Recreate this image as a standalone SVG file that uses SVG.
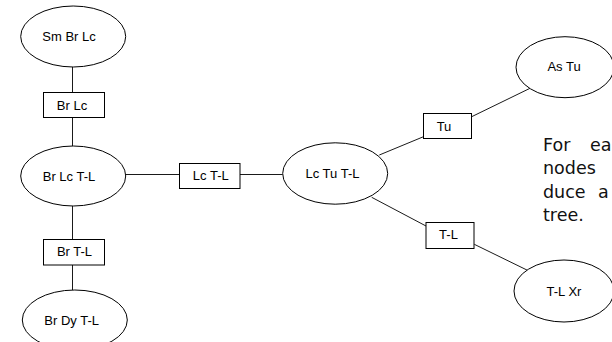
<svg xmlns="http://www.w3.org/2000/svg" width="612" height="342" viewBox="0 0 612 342">
  <style>
    .node ellipse, .node rect { fill: #ffffff; stroke: #000000; stroke-width: 1; }
    .node text { font-family: "Liberation Sans", Arial, sans-serif; font-size: 13px; fill: #000000; text-anchor: middle; }
    .edges line { stroke: #1a1a1a; stroke-width: 1; }
    .note { font-family: "DejaVu Sans", sans-serif; font-size: 17.5px; fill: #111111; }
  </style>
  <rect x="0" y="0" width="612" height="342" fill="#ffffff"/>

  <!-- connectors -->
  <g id="edges" class="edges">
    <line x1="72.5" y1="67" x2="72.5" y2="92.5"/>
    <line x1="72.5" y1="117.5" x2="72.5" y2="146"/>
    <line x1="72.5" y1="206" x2="72.5" y2="239.5"/>
    <line x1="72.5" y1="265" x2="72.5" y2="290"/>
    <line x1="125.7" y1="174.5" x2="179.5" y2="174.5"/>
    <line x1="240" y1="174.5" x2="282.7" y2="174.5"/>
    <line x1="379.3" y1="155" x2="423.5" y2="136.7"/>
    <line x1="471.7" y1="116.7" x2="530" y2="88.3"/>
    <line x1="371.7" y1="197.3" x2="426" y2="226"/>
    <line x1="474.3" y1="244.3" x2="528.3" y2="270.7"/>
  </g>

  <!-- nodes -->
  <g id="node-sm-br-lc" class="node">
    <ellipse cx="73.2" cy="36.5" rx="52.5" ry="30.5"/>
    <text x="69" y="41">Sm Br Lc</text>
  </g>
  <g id="node-br-lc" class="node">
    <rect x="43.5" y="92.5" width="61" height="25"/>
    <text x="72" y="109.5">Br Lc</text>
  </g>
  <g id="node-br-lc-t-l" class="node">
    <ellipse cx="73.2" cy="176" rx="52.5" ry="30"/>
    <text x="69" y="180.5">Br Lc T-L</text>
  </g>
  <g id="node-br-t-l" class="node">
    <rect x="43.5" y="239.5" width="61" height="25.5"/>
    <text x="74.5" y="256">Br T-L</text>
  </g>
  <g id="node-br-dy-t-l" class="node">
    <ellipse cx="74.8" cy="320" rx="52.5" ry="30"/>
    <text x="71.7" y="325">Br Dy T-L</text>
  </g>
  <g id="node-lc-t-l" class="node">
    <rect x="179.5" y="163.5" width="60.5" height="25"/>
    <text x="210.8" y="180">Lc T-L</text>
  </g>
  <g id="node-lc-tu-t-l" class="node">
    <ellipse cx="335.2" cy="173.5" rx="52.5" ry="30.7"/>
    <text x="332.5" y="178">Lc Tu T-L</text>
  </g>
  <g id="node-tu" class="node">
    <rect x="423.5" y="113.5" width="48" height="25"/>
    <text x="444" y="130.5">Tu</text>
  </g>
  <g id="node-as-tu" class="node">
    <ellipse cx="565" cy="67.2" rx="49" ry="30.5"/>
    <text x="564" y="71">As Tu</text>
  </g>
  <g id="node-t-l" class="node">
    <rect x="426" y="222.5" width="48" height="26"/>
    <text x="448.5" y="239">T-L</text>
  </g>
  <g id="node-t-l-xr" class="node">
    <ellipse cx="564" cy="291" rx="50" ry="31"/>
    <text x="564" y="295.5">T-L Xr</text>
  </g>

  <!-- side note, justified and running past the right edge -->
  <g id="note" class="note">
    <text x="543" y="150.5">For</text>
    <text x="590" y="150.5">ea</text>
    <text x="543" y="174">nodes</text>
    <text x="543" y="197.5">duce</text>
    <text x="598" y="197.5">a</text>
    <text x="543" y="221">tree.</text>
  </g>
</svg>
